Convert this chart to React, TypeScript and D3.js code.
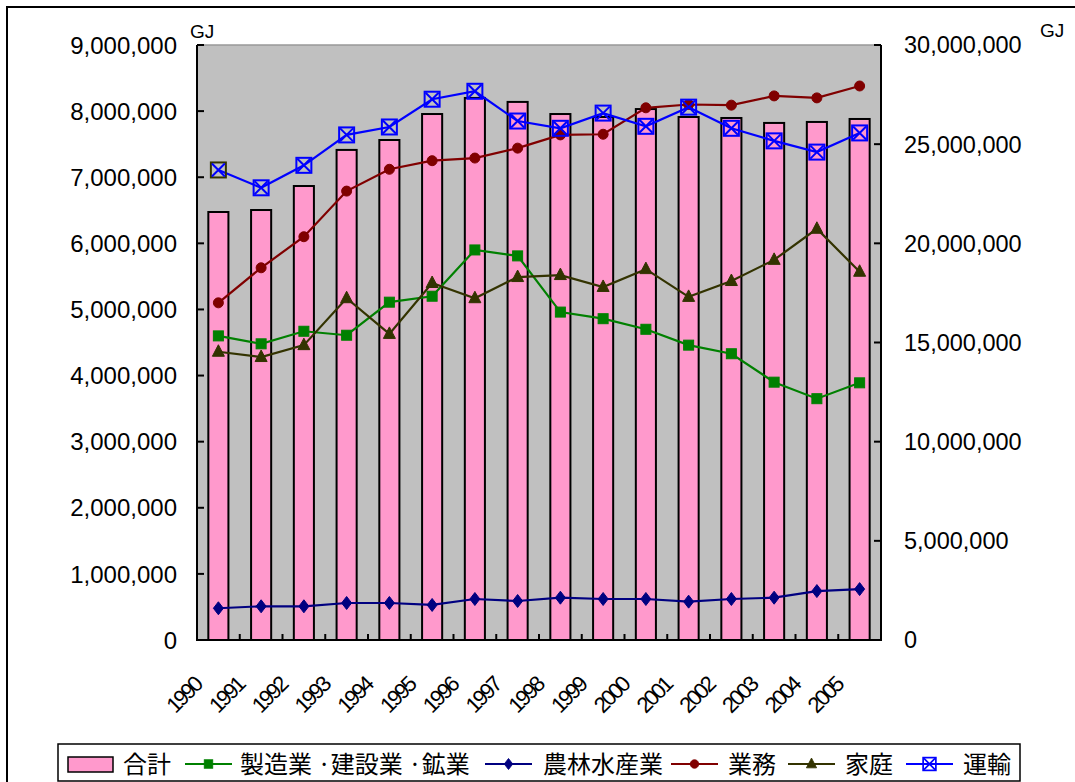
import React from "react";
import * as d3 from "d3";

// Fiscal years on the category axis
const years = [
  "1990", "1991", "1992", "1993", "1994", "1995", "1996", "1997",
  "1998", "1999", "2000", "2001", "2002", "2003", "2004", "2005",
];

// 合計 (right axis, GJ)
const totalValues = [
  21580000, 21680000, 22890000, 24710000, 25210000, 26520000, 27330000, 27130000,
  26520000, 26370000, 26770000, 26370000, 26320000, 26070000, 26120000, 26270000,
];

// Sector series (left axis, GJ)
const manufacturing = [
  4600000, 4480000, 4670000, 4610000, 5110000, 5200000, 5900000, 5810000,
  4960000, 4860000, 4700000, 4460000, 4330000, 3900000, 3650000, 3890000,
];
const agriculture = [
  480000, 510000, 510000, 560000, 560000, 530000, 620000, 590000,
  640000, 620000, 620000, 580000, 620000, 640000, 740000, 770000,
];
const commercial = [
  5100000, 5630000, 6100000, 6790000, 7120000, 7250000, 7290000, 7440000,
  7640000, 7650000, 8050000, 8100000, 8090000, 8230000, 8200000, 8380000,
];
const household = [
  4360000, 4280000, 4460000, 5170000, 4630000, 5400000, 5170000, 5490000,
  5520000, 5340000, 5610000, 5190000, 5430000, 5750000, 6220000, 5570000,
];
const transport = [
  7110000, 6840000, 7180000, 7640000, 7760000, 8180000, 8300000, 7850000,
  7740000, 7970000, 7770000, 8060000, 7740000, 7550000, 7380000, 7670000,
];

const leftTicks = [0, 1000000, 2000000, 3000000, 4000000, 5000000, 6000000, 7000000, 8000000, 9000000];
const rightTicks = [0, 5000000, 10000000, 15000000, 20000000, 25000000, 30000000];

type MarkerKind = "square" | "diamond" | "circle" | "triangle" | "xbox";

const lineSeries: { name: string; values: number[]; color: string; marker: MarkerKind }[] = [
  { name: "製造業 \u00B7建設業 \u00B7鉱業", values: manufacturing, color: "#008000", marker: "square" },
  { name: "農林水産業", values: agriculture, color: "#000080", marker: "diamond" },
  { name: "業務", values: commercial, color: "#800000", marker: "circle" },
  { name: "家庭", values: household, color: "#333300", marker: "triangle" },
  { name: "運輸", values: transport, color: "#0000FF", marker: "xbox" },
];

const NUM_FONT = "'Liberation Sans', Arial, sans-serif";
const JP_FONT = "'Noto Sans CJK JP', 'Noto Sans', sans-serif";

function Marker({ kind, x, y, color, boxColor }: { kind: MarkerKind; x: number; y: number; color: string; boxColor?: string }) {
  switch (kind) {
    case "square":
      return <rect x={x - 5} y={y - 5} width={10} height={10} fill={color} stroke={color} strokeWidth={1} />;
    case "diamond":
      return <path d={`M${x},${y - 6.5}L${x + 5},${y}L${x},${y + 6.5}L${x - 5},${y}Z`} fill={color} stroke={color} strokeWidth={1} />;
    case "circle":
      return <circle cx={x} cy={y} r={5} fill={color} stroke={color} strokeWidth={1} />;
    case "triangle":
      return <path d={`M${x},${y - 7}L${x + 6},${y + 4.5}L${x - 6},${y + 4.5}Z`} fill={color} stroke={color} strokeWidth={1} />;
    case "xbox":
      return (
        <g>
          <rect x={x - 7.5} y={y - 7.5} width={15} height={15} fill="none" stroke={boxColor || color} strokeWidth={2} />
          <path d={`M${x - 6.5},${y - 6.5}L${x + 6.5},${y + 6.5}M${x + 6.5},${y - 6.5}L${x - 6.5},${y + 6.5}`} stroke={color} strokeWidth={2} />
        </g>
      );
  }
}

export default function App() {
  const W = 1075;
  const H = 782;
  const plotLeft = 197;
  const plotRight = 881;
  const plotTop = 45;
  const plotBottom = 640;

  const x = d3.scaleBand<string>().domain(years).range([plotLeft, plotRight]).padding(0);
  const bw = x.bandwidth();
  const barW = bw * 0.47;
  const yLeft = d3.scaleLinear().domain([0, 9000000]).range([plotBottom, plotTop]);
  const yRight = d3.scaleLinear().domain([0, 30000000]).range([plotBottom, plotTop]);
  const fmt = d3.format(",");

  const cx = (i: number) => (x(years[i]) as number) + bw / 2;

  const legendItems = [
    { kind: "bar" as const, label: "合計", lx: 68, tx: 123 },
    { kind: "line" as const, idx: 0, lx: 185, tx: 240 },
    { kind: "line" as const, idx: 1, lx: 485, tx: 543 },
    { kind: "line" as const, idx: 2, lx: 671, tx: 728 },
    { kind: "line" as const, idx: 3, lx: 788, tx: 845 },
    { kind: "line" as const, idx: 4, lx: 906, tx: 963 },
  ];
  const legY = 764;

  return (
    <svg width={W} height={H} style={{ position: "absolute", left: 0, top: 0, background: "#fff" }}>
      {/* chart frame */}
      <rect x={7} y={7} width={W + 20} height={H + 20} fill="#fff" stroke="#000" strokeWidth={2} />

      {/* plot area */}
      <rect x={plotLeft} y={plotTop} width={plotRight - plotLeft} height={plotBottom - plotTop} fill="#C0C0C0" />
      <line x1={plotLeft} x2={plotRight} y1={plotTop} y2={plotTop} stroke="#999" strokeWidth={1.5} />

      {/* total bars on the right axis */}
      {totalValues.map((v, i) => (
        <rect
          key={"bar" + i}
          x={cx(i) - barW / 2}
          y={yRight(v)}
          width={barW}
          height={plotBottom - yRight(v)}
          fill="#FF99CC"
          stroke="#000"
          strokeWidth={2}
        />
      ))}

      {/* axes */}
      <line x1={plotLeft} x2={plotLeft} y1={plotTop} y2={plotBottom} stroke="#000" strokeWidth={2} />
      <line x1={plotRight} x2={plotRight} y1={plotTop} y2={plotBottom} stroke="#000" strokeWidth={2} />
      <line x1={plotLeft - 1} x2={plotRight + 1} y1={plotBottom} y2={plotBottom} stroke="#000" strokeWidth={2} />

      {leftTicks.map((t) => (
        <g key={"lt" + t}>
          <line x1={plotLeft} x2={plotLeft + 7} y1={yLeft(t)} y2={yLeft(t)} stroke="#000" strokeWidth={2} />
          <text x={177} y={yLeft(t)} dy="0.36em" textAnchor="end" fontFamily={NUM_FONT} fontSize={24} fill="#000">
            {fmt(t)}
          </text>
        </g>
      ))}
      {rightTicks.map((t) => (
        <g key={"rt" + t}>
          <line x1={plotRight - 7} x2={plotRight} y1={yRight(t)} y2={yRight(t)} stroke="#000" strokeWidth={2} />
          <text x={904} y={yRight(t)} dy="0.36em" textAnchor="start" fontFamily={NUM_FONT} fontSize={23.5} fill="#000">
            {fmt(t)}
          </text>
        </g>
      ))}
      {years.slice(1).map((yr) => (
        <line key={"xt" + yr} x1={x(yr)} x2={x(yr)} y1={plotBottom} y2={plotBottom - 6} stroke="#000" strokeWidth={2} />
      ))}

      {/* unit labels */}
      <text x={190} y={38} fontFamily={NUM_FONT} fontSize={19} fill="#000">GJ</text>
      <text x={1040} y={37} fontFamily={NUM_FONT} fontSize={19} fill="#000">GJ</text>

      {/* category labels */}
      {years.map((yr, i) => {
        const ax = cx(i) - 21;
        const ay = 681;
        return (
          <text
            key={"xl" + yr}
            transform={`translate(${ax},${ay}) rotate(-45)`}
            textAnchor="end"
            dy="0.36em"
            fontFamily={NUM_FONT}
            fontSize={22}
            letterSpacing={-2.5}
            fill="#000"
          >
            {yr}
          </text>
        );
      })}

      {/* sector lines on the left axis */}
      {lineSeries.map((s) => {
        const path = d3
          .line<number>()
          .x((_, i) => cx(i))
          .y((v) => yLeft(v))(s.values);
        return (
          <g key={s.name}>
            <path d={path || ""} fill="none" stroke={s.color} strokeWidth={2.2} />
            {s.values.map((v, i) => (
              <Marker
                key={i}
                kind={s.marker}
                x={cx(i)}
                y={yLeft(v)}
                color={s.color}
                boxColor={s.marker === "xbox" && i === 0 ? "#333300" : undefined}
              />
            ))}
          </g>
        );
      })}

      {/* legend */}
      <rect x={58} y={744} width={962} height={37} fill="#fff" stroke="#000" strokeWidth={1.5} />
      {legendItems.map((it, k) => {
        if (it.kind === "bar") {
          return (
            <g key={"lg" + k}>
              <rect x={it.lx} y={757} width={45} height={15} fill="#FF99CC" stroke="#000" strokeWidth={1.5} />
              <text x={it.tx} y={legY} dy="0.36em" fontFamily={JP_FONT} fontSize={24} fill="#000">{it.label}</text>
            </g>
          );
        }
        const s = lineSeries[it.idx];
        return (
          <g key={"lg" + k}>
            <line x1={it.lx} x2={it.lx + 47} y1={legY} y2={legY} stroke={s.color} strokeWidth={2} />
            <g transform={`translate(${it.lx + 23.5},${legY}) scale(0.85)`}>
              <Marker kind={s.marker} x={0} y={0} color={s.color} />
            </g>
            <text x={it.tx} y={legY} dy="0.36em" fontFamily={JP_FONT} fontSize={24} fill="#000">{s.name}</text>
          </g>
        );
      })}
    </svg>
  );
}
